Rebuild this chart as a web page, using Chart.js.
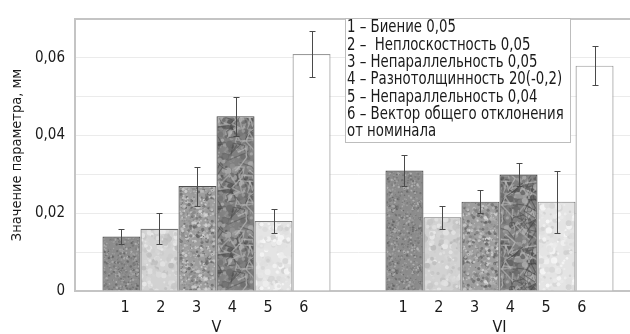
<!DOCTYPE html>
<html><head><meta charset="utf-8">
<script src="https://cdn.jsdelivr.net/npm/chart.js@4.4.1/dist/chart.umd.min.js"></script>
<style>
html,body{margin:0;padding:0;overflow:hidden;background:#fff;width:630px;height:334px}
#wrap{position:relative;width:645px;height:334px}
</style>
</head><body><div id="wrap"><canvas id="c" width="645" height="334"></canvas></div>
<script>
// ---- data ----
const groups = ['V', 'VI'];
const barNumbers = ['1', '2', '3', '4', '5', '6'];
const seriesNames = [
  '1 – Биение 0,05',
  '2 –  Неплоскостность 0,05',
  '3 – Непараллельность 0,05',
  '4 – Разнотолщинность 20(-0,2)',
  '5 – Непараллельность 0,04',
  '6 – Вектор общего отклонения\nот номинала'
];
const s1 = [0.014, 0.031], e1 = [0.002, 0.004];
const s2 = [0.016, 0.019], e2 = [0.004, 0.003];
const s3 = [0.027, 0.023], e3 = [0.005, 0.003];
const s4 = [0.045, 0.030], e4 = [0.005, 0.003];
const s5 = [0.018, 0.023], e5 = [0.003, 0.008];
const s6 = [0.061, 0.058], e6 = [0.006, 0.005];
const yMin = 0, yMax = 0.07, yStep = 0.01;
const yTitle = 'Значение параметра, мм';

const values = [s1, s2, s3, s4, s5, s6];
const errors = [e1, e2, e3, e4, e5, e6];

const FONT = '"Liberation Sans Narrow", "DejaVu Sans Condensed", "Open Sans", sans-serif';
const canvas = document.getElementById('c');
const mainCtx = canvas.getContext('2d');

// deterministic texture generator (styling only)
function rng(seed) {
  return function () {
    seed |= 0; seed = seed + 0x6D2B79F5 | 0;
    let t = Math.imul(seed ^ seed >>> 15, 1 | seed);
    t = t + Math.imul(t ^ t >>> 7, 61 | t) ^ t;
    return ((t ^ t >>> 14) >>> 0) / 4294967296;
  };
}
function texture(base, amp, n, size, seed, cracks, blur) {
  const T = 64;
  const c = document.createElement('canvas'); c.width = T; c.height = T;
  const g = c.getContext('2d');
  g.fillStyle = `rgb(${base},${base},${base})`; g.fillRect(0, 0, T, T);
  const r = rng(seed);
  for (let k = 0; k < n; k++) {
    const v = Math.max(0, Math.min(255, Math.round(base + (r() * 2 - 1) * amp)));
    g.fillStyle = `rgba(${v},${v},${v},0.85)`;
    const s = size * (0.4 + r());
    const x = r() * T, y = r() * T;
    for (const dx of [-T, 0, T]) for (const dy of [-T, 0, T]) {
      g.beginPath(); g.arc(x + dx, y + dy, s, 0, Math.PI * 2); g.fill();
    }
  }
  if (cracks) {
    for (let k = 0; k < cracks; k++) {
      const dark = k % 2 === 0;
      const v = dark ? Math.round(60 + r() * 30) : Math.round(175 + r() * 30);
      g.strokeStyle = `rgba(${v},${v},${v},0.6)`;
      g.lineWidth = dark ? 1.1 : 1.4;
      let x = r() * T, y = r() * T;
      const pts = [[x, y]];
      for (let s = 0; s < 4; s++) { x += (r() * 2 - 1) * 12; y += (r() * 2 - 1) * 12; pts.push([x, y]); }
      for (const dx of [-T, 0, T]) for (const dy of [-T, 0, T]) {
        g.beginPath(); g.moveTo(pts[0][0] + dx, pts[0][1] + dy);
        for (const p of pts.slice(1)) g.lineTo(p[0] + dx, p[1] + dy);
        g.stroke();
      }
    }
  }
  let src = c;
  if (blur) {
    const c2 = document.createElement('canvas'); c2.width = T; c2.height = T;
    const g2 = c2.getContext('2d');
    g2.filter = `blur(${blur}px)`;
    for (const dx of [-T, 0, T]) for (const dy of [-T, 0, T]) g2.drawImage(c, dx, dy);
    src = c2;
  }
  return mainCtx.createPattern(src, 'repeat');
}
const fills = [
  texture(140, 45, 1000, 0.9, 11, 0, 0.3),
  texture(210, 26, 260, 2.2, 22, 0, 0.6),
  texture(158, 60, 800, 1.3, 33, 0, 0.3),
  texture(128, 45, 300, 2.5, 44, 36, 0.6),
  texture(228, 22, 200, 2.5, 55, 0, 0.7),
  '#ffffff'
];
const borders = ['#505050', '#707070', '#505050', '#444444', '#808080', '#9a9a9a'];

const datasets = values.map((v, i) => ({
  label: seriesNames[i],
  data: v,
  backgroundColor: fills[i],
  borderColor: borders[i],
  borderWidth: 1.2,
  borderSkipped: 'bottom',
  barPercentage: 1,
  categoryPercentage: 0.806
}));

const errorBars = {
  id: 'errorBars',
  afterDatasetsDraw(chart) {
    const ctx = chart.ctx, y = chart.scales.y;
    ctx.save();
    ctx.strokeStyle = '#4a4a4a'; ctx.lineWidth = 1;
    chart.data.datasets.forEach((ds, i) => {
      const meta = chart.getDatasetMeta(i);
      meta.data.forEach((el, j) => {
        const v = ds.data[j], e = errors[i][j];
        const x = Math.round(el.x) + 0.5;
        const yt = Math.round(y.getPixelForValue(v + e)) + 0.5, yb = Math.round(y.getPixelForValue(v - e)) + 0.5;
        ctx.beginPath();
        ctx.moveTo(x, yt); ctx.lineTo(x, yb);
        ctx.moveTo(x - 3, yt); ctx.lineTo(x + 3, yt);
        ctx.moveTo(x - 3, yb); ctx.lineTo(x + 3, yb);
        ctx.stroke();
      });
    });
    ctx.restore();
  }
};

const numberShift = [-2, -7];
const barNumberLabels = {
  id: 'barNumberLabels',
  afterDraw(chart) {
    const ctx = chart.ctx, xs = chart.scales.x;
    ctx.save();
    ctx.font = '16px ' + FONT; ctx.fillStyle = '#1a1a1a';
    ctx.textAlign = 'center'; ctx.textBaseline = 'middle';
    chart.data.datasets.forEach((ds, i) => {
      chart.getDatasetMeta(i).data.forEach((el, j) => {
        const gc = xs.getPixelForValue(j);
        const x = gc + (el.x - gc) * 0.94 + numberShift[j];
        ctx.fillText(barNumbers[i], x, xs.top + 17);
      });
    });
    ctx.restore();
  }
};

const legendBox = {
  id: 'legendBox',
  afterDraw(chart) {
    const ctx = chart.ctx;
    const lines = [];
    chart.data.datasets.forEach(ds => ds.label.split('\n').forEach(l => lines.push(l)));
    ctx.save();
    ctx.fillStyle = '#fff'; ctx.fillRect(345, 18, 226, 125);
    ctx.strokeStyle = '#bdbdbd'; ctx.lineWidth = 1; ctx.strokeRect(345.5, 18.5, 225, 124);
    ctx.font = '17px ' + FONT; ctx.fillStyle = '#1a1a1a';
    ctx.textAlign = 'left'; ctx.textBaseline = 'middle';
    const sx = 0.87;
    ctx.translate(347, 0); ctx.scale(sx, 1);
    lines.forEach((l, k) => ctx.fillText(l, 0, 28 + k * 17.3));
    ctx.restore();
  }
};

new Chart(canvas, {
  type: 'bar',
  data: { labels: groups, datasets },
  plugins: [errorBars, barNumberLabels, legendBox],
  options: {
    responsive: false, animation: false, devicePixelRatio: 1,
    layout: { padding: { top: 14, right: 4, left: 0, bottom: 0 } },
    plugins: { legend: { display: false }, tooltip: { enabled: false } },
    scales: {
      x: {
        grid: { display: false },
        border: { display: true, color: '#c4c4c4', width: 2 },
        ticks: { font: { family: FONT, size: 16 }, color: '#1a1a1a', padding: 19 },
        afterFit(s) { s.height = 43; }
      },
      y: {
        min: yMin, max: yMax,
        grid: {
          drawTicks: false,
          color: c => (c.tick && c.tick.value > yMax - 1e-6) ? '#c4c4c4' : (c.tick && Math.abs(c.tick.value) < 1e-9 ? '#c4c4c4' : '#ebebeb'),
          lineWidth: c => (c.tick && c.tick.value > yMax - 1e-6) ? 2 : 1
        },
        border: { display: true, color: '#c4c4c4', width: 2 },
        ticks: {
          stepSize: yStep, padding: 10, color: '#1a1a1a',
          font: { family: FONT, size: 15 },
          callback: (v, i) => (i % 2 === 0 && v < yMax - 1e-6) ? (Math.abs(v) < 1e-9 ? '0' : v.toFixed(2).replace('.', ',')) : ''
        },
        title: { display: true, text: yTitle, color: '#1a1a1a', font: { family: FONT, size: 14.5 }, padding: { top: 9, bottom: 0 } },
        afterFit(s) { s.width = 75; }
      }
    }
  }
});
</script>
</body></html>
